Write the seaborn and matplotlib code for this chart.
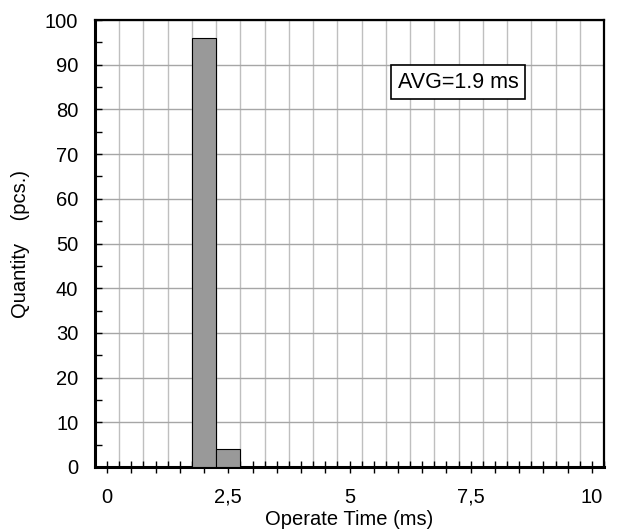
import numpy as np
import pandas as pd
import matplotlib
matplotlib.use("Agg")
import matplotlib.pyplot as plt
import seaborn as sns
from matplotlib.ticker import MultipleLocator, FuncFormatter

# histogram data (bin centers in ms, counts in pcs.)
bin_centers = [2.0, 2.5]
counts = [96, 4]
bin_edges = [round(-0.25 + 0.5 * i, 2) for i in range(22)]
avg_text = "AVG=1.9 ms"

df = pd.DataFrame({"time": bin_centers, "qty": counts})

sns.set_style("white")
plt.rcParams['font.family'] = ['Liberation Sans', 'DejaVu Sans']
plt.rcParams['text.color'] = 'black'
plt.rcParams['axes.labelcolor'] = 'black'
plt.rcParams['xtick.color'] = 'black'
plt.rcParams['ytick.color'] = 'black'

fig = plt.figure(figsize=(6.2, 5.29), dpi=100)
ax = fig.add_axes([95 / 620, 1 - 467 / 529, 509 / 620, 447 / 529])

sns.histplot(data=df, x="time", weights="qty", bins=bin_edges, ax=ax,
             color="#999999", alpha=1, edgecolor="black", linewidth=0.8, zorder=3)

ax.set_xlim(-0.25, 10.25)
ax.set_ylim(0, 100)

# x ticks: labels every 2.5, crossing ticks every 0.5, inner ticks on the grid
ax.xaxis.set_major_locator(MultipleLocator(0.5))
ax.xaxis.set_major_formatter(FuncFormatter(
    lambda v, p: (f"{v:g}".replace(".", ",") if abs(v / 2.5 - round(v / 2.5)) < 1e-6 else "")))
ax.set_xticks(bin_edges, minor=True)
ax.tick_params(axis="x", which="both", bottom=True)
ax.tick_params(axis="x", which="major", direction="inout", length=9, width=1, pad=10.5, labelsize=14.5)
ax.tick_params(axis="x", which="minor", direction="in", length=4, width=1)

ax.yaxis.set_major_locator(MultipleLocator(10))
ax.yaxis.set_minor_locator(MultipleLocator(5))
ax.tick_params(axis="y", which="both", left=True)
ax.tick_params(axis="y", which="major", direction="in", length=5, width=1, pad=12, labelsize=14.5)
ax.tick_params(axis="y", which="minor", direction="in", length=5, width=1)

ax.grid(True, axis="x", which="minor", color="#bfbfbf", linewidth=1, zorder=0)
ax.grid(True, axis="y", which="major", color="#a6a6a6", linewidth=1, zorder=0)
ax.grid(False, axis="x", which="major")
ax.set_axisbelow(True)

for side, w in [("left", 2.2), ("bottom", 2.2), ("top", 1.6), ("right", 1.6)]:
    ax.spines[side].set_visible(True)
    ax.spines[side].set_linewidth(w)
    ax.spines[side].set_color("black")

ax.set_xlabel("Operate Time (ms)", fontsize=14.5, labelpad=2)
ax.set_ylabel("Quantity    (pcs.)", fontsize=14.5, labelpad=11)

ax.text(0.713, 0.861, avg_text, transform=ax.transAxes, ha="center", va="center",
        fontsize=15.5, zorder=5,
        bbox=dict(boxstyle="square,pad=0.3", facecolor="white", edgecolor="black", linewidth=1.2))

fig.savefig("out.png", dpi=100)
